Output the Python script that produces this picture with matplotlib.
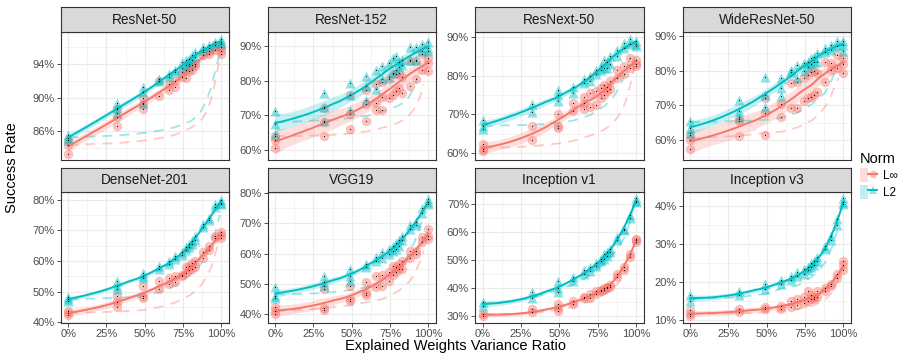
import numpy as np
import matplotlib
matplotlib.use('Agg')
import matplotlib.pyplot as plt
from matplotlib.ticker import MultipleLocator, PercentFormatter
from matplotlib.patches import Patch
from matplotlib.lines import Line2D
from matplotlib.legend_handler import HandlerTuple

plt.rcParams['font.family'] = ['Liberation Sans', 'DejaVu Sans']

# explained weights variance ratio of each measured point
RATIO = [0, 0.32, 0.49, 0.59, 0.66, 0.70, 0.74, 0.77, 0.79, 0.81, 0.83, 0.88, 0.92, 0.96, 1.0]
# x positions of the dashed reference curves
DASH_RATIO = [0, 0.32, 0.49, 0.6, 0.7, 0.8, 0.85, 0.88, 0.91, 0.93, 0.95, 0.97, 0.99]

MODELS = ['ResNet-50', 'ResNet-152', 'ResNext-50', 'WideResNet-50',
          'DenseNet-201', 'VGG19', 'Inception v1', 'Inception v3']

# success rate (%) per ratio, several runs each
RESNET50_LINF = [[84.4, 83.3, 85.0], [87.7, 86.6, 88.6], [88.6, 90.0, 89.2], [90.2, 91.9], [90.9, 91.6],
                 [92.0, 91.2], [92.4, 93.0], [93.3, 92.3], [93.7, 93.1], [93.8, 93.3], [94.0, 93.7],
                 [95.0, 95.4], [95.5, 95.1], [96.2, 95.6], [95.5, 95.2, 96.0]]
RESNET50_L2 = [[85.6, 85.2, 85.0], [89.3, 88.8, 88.2], [91.3, 89.3, 90.7], [92.0, 92.2], [92.4, 92.8],
               [93.0, 93.2], [93.5, 94.2], [94.4, 93.9], [94.6, 94.0], [95.0, 94.4], [95.4, 94.8],
               [96.0, 95.6], [96.2, 95.8], [96.6, 96.2], [96.95, 96.3, 96.6]]
RESNET152_LINF = [[62.8, 60.5, 64.0], [68.0, 64.0, 72.0], [70.5, 66.0, 75.8], [77.3, 73.3, 68.5],
                  [79.0, 73.5, 71.5], [79.6, 75.2, 71.5], [80.5, 75.0], [81.8, 76.0], [82.0, 77.0],
                  [82.3, 78.0], [81.0, 76.5], [85.6, 78.6], [85.6, 80.5], [87.8, 83.0], [86.5, 85.0, 82.8]]
RESNET152_L2 = [[71.3, 67.5, 64.5], [76.5, 72.3, 68.5], [79.3, 76.0, 71.5], [81.4, 74.5, 78.5],
                [83.0, 77.5], [84.3, 80.5], [85.2, 81.0], [86.5, 82.2], [87.0, 83.0], [85.3, 84.0],
                [86.0, 84.5], [89.7, 86.0], [89.7, 85.8], [90.5, 88.5], [91.0, 89.5, 88.5]]
RESNEXT50_LINF = [[62.5, 60.7, 61.0], [67.0, 63.5], [70.0, 67.0, 66.5], [73.0, 70.8], [74.5, 71.5, 73.0],
                  [75.5, 72.0], [76.0, 72.5], [76.8, 74.3], [77.5, 75.0], [77.0, 76.0], [78.5, 76.5],
                  [81.5, 79.5], [82.5, 80.5], [84.5, 82.0], [84.0, 83.0, 82.5]]
RESNEXT50_L2 = [[68.5, 66.3, 67.0], [72.8, 70.5], [73.5, 75.0, 76.3], [77.0, 75.6], [78.0, 79.0],
                [80.0, 78.5], [80.5, 81.5], [81.5, 82.5], [82.0, 84.0], [83.5, 82.0], [85.0, 83.0],
                [86.5, 85.0], [88.5, 87.0], [89.5, 88.0], [89.0, 88.0, 87.5]]
WIDERESNET50_LINF = [[61.4, 60.0, 57.3], [61.2, 66.0, 65.5], [72.2, 67.7, 61.4], [70.3, 66.7], [76.3, 69.1],
                     [76.8, 69.1], [77.8, 71.1], [78.8, 72.0], [79.7, 72.5], [79.9, 73.0], [79.2, 73.9],
                     [82.6, 76.8], [82.1, 80.2], [84.5, 80.7], [83.6, 79.2, 82.0]]
WIDERESNET50_L2 = [[65.5, 63.5, 62.0], [71.5, 68.5, 66.5], [78.3, 73.0, 69.6], [75.1, 77.8, 72.8],
                   [80.2, 79.5], [81.6, 78.0], [82.1, 80.0], [82.6, 81.0], [83.6, 82.0], [84.0, 82.5],
                   [85.0, 82.6], [86.4, 85.4], [87.4, 86.0], [88.4, 87.0], [88.4, 85.7, 87.5]]
DENSENET201_LINF = [[43.8, 43.0, 42.5], [48.5, 46.5, 45.0], [52.0, 48.5, 48.0], [53.5, 51.0], [54.5, 52.5],
                    [55.0, 53.0], [55.5, 55.0], [58.0, 56.0], [58.5, 57.0], [59.5, 57.5], [60.0, 58.0],
                    [63.0, 61.0], [65.0, 63.5], [68.0, 67.5], [69.5, 68.5, 67.5]]
DENSENET201_L2 = [[48.2, 47.5, 47.0], [53.5, 51.8, 51.0], [56.0, 55.0, 54.5], [58.5, 57.5], [60.0, 59.0],
                  [61.5, 60.5], [63.0, 62.0], [64.5, 63.5], [65.5, 64.5], [66.5, 65.5], [68.0, 67.0],
                  [72.0, 71.0], [74.0, 73.5], [77.5, 78.5], [80.0, 79.0, 78.5]]
VGG19_LINF = [[42.5, 41.0, 40.0], [48.5, 42.0, 41.5], [49.5, 45.0, 44.5], [50.5, 47.0, 46.5], [52.5, 49.0],
              [53.0, 49.5], [54.0, 51.0], [56.0, 53.0], [55.5, 54.0], [56.5, 55.0], [57.5, 55.0],
              [61.0, 58.5], [61.0, 60.0], [64.0, 65.5], [68.0, 66.0, 65.0]]
VGG19_L2 = [[49.0, 46.0, 45.5], [52.5, 50.5, 49.5], [55.0, 52.5, 51.0], [56.5, 55.5], [59.0, 57.5],
            [60.5, 58.5], [61.5, 60.0], [62.5, 61.0], [63.5, 61.5], [64.5, 62.5], [66.0, 64.5],
            [69.5, 68.0], [70.5, 69.5], [75.0, 73.5], [78.0, 77.0, 76.5]]
INCEPTIONV1_LINF = [[31.0, 30.3], [32.5, 31.5], [34.5, 33.0, 32.0], [35.5, 34.5], [37.0, 36.5],
                    [38.0, 36.5], [39.0, 38.0], [39.5, 39.0], [40.0, 39.5], [40.5, 40.0], [41.0, 40.5],
                    [45.0, 44.0], [47.5, 46.5], [52.0, 51.0], [57.5, 57.0, 56.5]]
INCEPTIONV1_L2 = [[35.0, 33.8], [38.5, 36.5], [42.5, 40.0, 38.5], [44.0, 42.5], [46.5, 45.0],
                  [47.5, 46.0], [49.0, 48.0], [50.5, 49.5], [52.0, 50.5], [53.0, 51.5], [54.0, 53.0],
                  [58.0, 57.0], [61.0, 60.5], [66.0, 65.0], [72.0, 71.0, 70.5]]
INCEPTIONV3_LINF = [[12.5, 11.5, 11.0], [13.0, 12.0], [13.5, 12.8], [13.8, 13.0], [15.0, 13.5],
                    [15.5, 14.0], [16.0, 14.5], [17.5, 15.0], [16.5, 15.5], [16.0, 15.5], [17.5, 16.0],
                    [18.5, 17.5], [19.5, 19.0], [22.0, 21.0], [25.5, 24.5, 23.0]]
INCEPTIONV3_L2 = [[16.5, 15.0], [17.5, 16.5], [19.5, 18.0], [20.5, 19.5], [21.5, 20.5],
                  [22.5, 21.5], [23.5, 22.0], [24.0, 23.0], [25.0, 24.0], [25.5, 24.5], [26.5, 25.5],
                  [29.5, 28.5], [32.0, 31.0], [36.5, 35.0], [42.0, 41.0, 40.5]]

# dashed reference curves (nan = not drawn)
nan = np.nan
RESNET50_DASH_LINF = [84.4, 84.6, 84.9, 85.2, 85.6, 86.4, 87.0, 87.6, 88.6, 89.6, 91.0, 92.8, 94.6]
RESNET50_DASH_L2 = [85.3, 85.5, 85.8, 86.1, 86.5, 87.2, 87.9, 88.8, 90.0, 91.0, 92.4, 93.8, 95.3]
RESNET152_DASH_LINF = [64.0, 64.2, 64.8, 65.4, 66.4, 67.8, 69.0, 70.3, 72.0, 73.5, 76.0, 79.0, nan]
RESNET152_DASH_L2 = [68.0, 68.6, 69.2, 69.9, 71.1, 72.7, 74.0, 75.8, 78.5, 81.0, nan, nan, nan]
RESNEXT50_DASH_LINF = [61.3, 61.8, 62.5, 63.3, 64.5, 66.2, 67.8, 69.3, 71.2, 73.0, 75.5, 78.5, 82.0]
RESNEXT50_DASH_L2 = [67.1, 67.3, 67.8, 68.5, 69.8, 72.3, 74.3, 76.2, 78.5, 80.5, 83.0, 85.5, nan]
WIDERESNET50_DASH_LINF = [60.5, 61.2, 62.0, 62.4, 63.6, 65.8, 67.8, 69.5, 71.8, 74.0, 76.0, 78.0, nan]
WIDERESNET50_DASH_L2 = [65.1, 65.5, 65.8, 66.4, 67.9, 70.5, 72.3, 73.6, 76.0, 78.0, 79.8, 82.0, nan]
DENSENET201_DASH_LINF = [43.0, 43.5, 44.0, 45.0, 46.5, 49.0, 51.0, 53.0, 55.5, 57.5, 60.5, 64.0, 68.0]
DENSENET201_DASH_L2 = [47.5, 48.0, 48.5, 50.0, 52.0, 55.5, 58.0, 60.0, 62.5, 64.5, 67.0, 71.0, 75.0]
VGG19_DASH_LINF = [41.0, 42.0, 43.0, 44.0, 45.0, 47.5, 49.5, 51.0, 53.5, 55.5, 58.0, 61.0, nan]
VGG19_DASH_L2 = [46.5, 47.0, 48.0, 49.0, 51.0, 55.0, 58.0, 61.0, 64.0, 66.5, 69.5, 73.0, nan]
INCEPTIONV1_DASH_LINF = [30.6, 31.2, 32.3, 33.5, 35.3, 38.0, 40.0, 41.5, 43.5, 45.5, 48.0, 52.0, nan]
INCEPTIONV1_DASH_L2 = [34.3, 36.5, 39.5, 41.5, 44.5, 49.0, 52.0, 54.0, 56.5, 58.5, 61.5, 65.5, 70.0]
INCEPTIONV3_DASH_LINF = [11.6, 11.8, 12.0, 12.3, 12.8, 13.8, 14.6, 15.3, 16.5, 17.5, 19.0, 21.0, nan]
INCEPTIONV3_DASH_L2 = [15.5, 16.0, 16.8, 18.3, 19.0, 21.5, 23.5, 25.0, 27.5, 29.5, 32.0, 35.5, nan]

# y break spacing and offset per panel
Y_STEP = [4, 10, 10, 10, 10, 10, 10, 10]
Y_OFFSET = [2, 0, 0, 0, 0, 0, 0, 0]

PANELS = [
    (RESNET50_LINF, RESNET50_L2, RESNET50_DASH_LINF, RESNET50_DASH_L2),
    (RESNET152_LINF, RESNET152_L2, RESNET152_DASH_LINF, RESNET152_DASH_L2),
    (RESNEXT50_LINF, RESNEXT50_L2, RESNEXT50_DASH_LINF, RESNEXT50_DASH_L2),
    (WIDERESNET50_LINF, WIDERESNET50_L2, WIDERESNET50_DASH_LINF, WIDERESNET50_DASH_L2),
    (DENSENET201_LINF, DENSENET201_L2, DENSENET201_DASH_LINF, DENSENET201_DASH_L2),
    (VGG19_LINF, VGG19_L2, VGG19_DASH_LINF, VGG19_DASH_L2),
    (INCEPTIONV1_LINF, INCEPTIONV1_L2, INCEPTIONV1_DASH_LINF, INCEPTIONV1_DASH_L2),
    (INCEPTIONV3_LINF, INCEPTIONV3_L2, INCEPTIONV3_DASH_LINF, INCEPTIONV3_DASH_L2),
]

RED = '#F8766D'
CYAN = '#00BFC4'


def flatten(runs):
    xs, ys = [], []
    for r, vals in zip(RATIO, runs):
        for v in vals:
            xs.append(r)
            ys.append(v)
    return np.array(xs, float), np.array(ys, float)


def loess(x, y, grid, span=0.75):
    # local quadratic fit with tricube weights, like geom_smooth's default
    n = len(x)
    q = int(np.floor(n * span))

    def row(x0):
        d = np.abs(x - x0)
        h = max(np.sort(d)[q - 1], 1e-9)
        w = np.clip(1 - (d / h) ** 3, 0, None) ** 3
        X = np.column_stack([np.ones(n), x - x0, (x - x0) ** 2])
        XtW = X.T * w
        return np.linalg.solve(XtW @ X, XtW)[0]

    L = np.array([row(v) for v in x])
    M = np.eye(n) - L
    sigma = np.sqrt(np.sum((M @ y) ** 2) / np.trace(M.T @ M))
    rows = np.array([row(v) for v in grid])
    return rows @ y, sigma * np.sqrt(np.sum(rows ** 2, axis=1))


W, H = 913, 358
fig = plt.figure(figsize=(W / 100, H / 100), dpi=100)


def px_axes(left, top, width, height):
    return fig.add_axes([left / W, 1 - (top + height) / H, width / W, height / H])


COL_LEFT = [60.5, 267.5, 475, 682.5]
PANEL_W = 168.5
ROWS = [(7, 32, 160), (168, 192, 323)]
grid = np.linspace(0, 1, 80)

for i, name in enumerate(MODELS):
    r, c = divmod(i, 4)
    s_top, p_top, p_bot = ROWS[r]
    ax = px_axes(COL_LEFT[c], p_top, PANEL_W, p_bot - p_top)
    st = px_axes(COL_LEFT[c], s_top, PANEL_W, p_top - s_top)

    linf, l2, dash_linf, dash_l2 = PANELS[i]
    for runs, dash, col, mk in [(linf, dash_linf, RED, 'o'), (l2, dash_l2, CYAN, '^')]:
        x, y = flatten(runs)
        fit, se = loess(x, y, grid)
        ax.fill_between(grid, fit - 1.97 * se, fit + 1.97 * se, color=col, alpha=0.22, lw=0, zorder=2)
        ax.plot(DASH_RATIO, dash, color=col, alpha=0.38, lw=1.3, ls=(0, (5.5, 4)), zorder=3)
        ax.scatter(x, y, s=46 if mk == 'o' else 52, marker=mk, color=col, alpha=0.45, lw=0, zorder=4)
        ax.plot(grid, fit, color=col, lw=1.4, zorder=5)
        ax.scatter(x, y, s=0.7, color='black', lw=0, zorder=6)

    ax.set_xlim(-0.05, 1.05)
    ax.margins(y=0.05)
    ax.xaxis.set_major_locator(MultipleLocator(0.25))
    ax.xaxis.set_minor_locator(MultipleLocator(0.125))
    ax.yaxis.set_major_locator(MultipleLocator(Y_STEP[i], offset=Y_OFFSET[i]))
    ax.yaxis.set_minor_locator(MultipleLocator(Y_STEP[i] / 2))
    ax.xaxis.set_major_formatter(PercentFormatter(1, decimals=0))
    ax.yaxis.set_major_formatter(PercentFormatter(100, decimals=0))
    ax.grid(which='major', color='#EBEBEB', lw=0.8, zorder=0)
    ax.grid(which='minor', color='#EBEBEB', lw=0.4, zorder=0)
    ax.set_axisbelow(True)
    ax.tick_params(which='major', length=2.75, width=0.6, color='#333333', labelcolor='#4D4D4D',
                   labelsize=8, pad=1.5)
    ax.tick_params(which='minor', length=0)
    if r == 0:
        ax.tick_params(axis='x', labelbottom=False, length=0)
    for sp in ax.spines.values():
        sp.set_color('#333333')
        sp.set_linewidth(0.8)

    st.set_facecolor('#D9D9D9')
    st.set_xticks([])
    st.set_yticks([])
    for sp in st.spines.values():
        sp.set_color('#333333')
        sp.set_linewidth(0.8)
    st.text(0.5, 0.5, name, ha='center', va='center', fontsize=9.8, color='#1A1A1A',
            transform=st.transAxes)

fig.text(455 / W, 1 - 346 / H, 'Explained Weights Variance Ratio', ha='center', va='center', fontsize=10.5)
fig.text(12 / W, 1 - 168 / H, 'Success Rate', ha='center', va='center', rotation=90, fontsize=10.5)

handles = []
for col, mk in [(RED, 'o'), (CYAN, '^')]:
    handles.append((Patch(facecolor=col, alpha=0.25, edgecolor='none'),
                    Line2D([], [], color=col, lw=1.4, marker=mk, markersize=5.5,
                           markerfacecolor=matplotlib.colors.to_rgba(col, 0.45), markeredgewidth=0)))
leg = fig.legend(handles, ['L∞', 'L2'], title='Norm', loc='upper left',
                 bbox_to_anchor=(849 / W, 1 - 141 / H), frameon=False, fontsize=8.5,
                 title_fontsize=10.5, handler_map={tuple: HandlerTuple(ndivide=None, pad=0)},
                 handlelength=1.5, handleheight=1.5, handletextpad=0.5, labelspacing=0.2)
leg._legend_box.align = 'left'

fig.savefig('out.png', dpi=100)
